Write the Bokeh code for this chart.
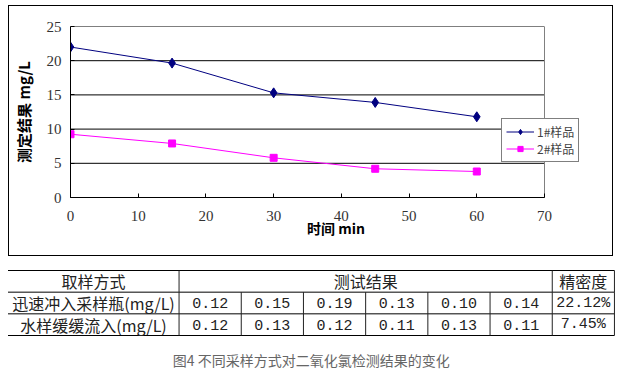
from bokeh.plotting import figure
from bokeh.models import Range1d, FixedTicker, ColumnDataSource
from bokeh.core.properties import value
from bokeh.embed import file_html
from bokeh.resources import INLINE

# ---------------- data ----------------
time_min = [0, 15, 30, 45, 60]
sample1 = [22.0, 19.65, 15.3, 13.9, 11.8]
sample2 = [9.25, 7.9, 5.8, 4.2, 3.8]
series_names = ["1#样品", "2#样品"]
x_ticks = [0, 10, 20, 30, 40, 50, 60, 70]
y_ticks = [0, 5, 10, 15, 20, 25]

table_header = ["取样方式", "测试结果", "精密度"]
row_labels = ["迅速冲入采样瓶(mg/L)", "水样缓缓流入(mg/L)"]
rapid_vals = ["0.12", "0.15", "0.19", "0.13", "0.10", "0.14"]
slow_vals = ["0.12", "0.13", "0.12", "0.11", "0.13", "0.11"]
precision = ["22.12%", "7.45%"]
caption = "图4 不同采样方式对二氧化氯检测结果的变化"

CJK = "Noto Sans CJK SC"
SERIF = "Liberation Serif"
MONO = "Liberation Mono"

# ---------------- chart ----------------
x_max, y_max = x_ticks[-1], y_ticks[-1]
plot_px = 474          # pixel width of the 0..70 plot area
frame_px = 531         # frame also holds the legend that overhangs the plot area
p = figure(width=605, height=251, output_backend="svg", toolbar_location=None,
           x_range=Range1d(0, x_max * frame_px / plot_px), y_range=Range1d(0, y_max),
           min_border_left=61, min_border_right=605 - 61 - frame_px,
           min_border_top=20, min_border_bottom=60,
           background_fill_color="white", border_fill_color="white",
           styles={"position": "absolute", "left": "8px", "top": "5px",
                   "border": "1px solid #000"})
p.outline_line_color = None
p.grid.visible = False

# horizontal gridlines and right edge of plot area
n = len(y_ticks)
p.segment(x0=[0] * n, x1=[x_max] * n, y0=y_ticks, y1=y_ticks, line_color="#000000", line_width=1)
p.segment(x0=[x_max], x1=[x_max], y0=[0], y1=[y_max], line_color="#808080", line_width=1)

p.xaxis.ticker = FixedTicker(ticks=x_ticks)
p.xaxis.bounds = (0, x_max)
p.yaxis.ticker = FixedTicker(ticks=y_ticks)
for ax in (p.xaxis[0], p.yaxis[0]):
    ax.major_tick_in = 4
    ax.major_tick_out = 0
    ax.minor_tick_line_color = None
    ax.axis_line_color = "#000000"
    ax.major_tick_line_color = "#000000"
    ax.major_label_text_font = SERIF
    ax.major_label_text_font_size = "15px"
    ax.major_label_text_color = "#333333"
    ax.axis_label_text_font = CJK
    ax.axis_label_text_font_style = "bold"
    ax.axis_label_text_color = "#000000"

p.xaxis.major_label_standoff = 13
p.xaxis.axis_label = "时间 min"
p.xaxis.axis_label_text_font_size = "14px"
p.xaxis.axis_label_standoff = -6
p.yaxis.major_label_standoff = 9
p.yaxis.axis_label = "测定结果 mg/L"
p.yaxis.axis_label_text_font_size = "15px"
p.yaxis.axis_label_standoff = 10

src = ColumnDataSource(dict(t=time_min, s1=sample1, s2=sample2))
p.line("t", "s1", source=src, line_color="#000080", line_width=1, legend_label=series_names[0])
p.scatter("t", "s1", source=src, marker="diamond", size=10, fill_color="#000080",
          line_color="#000080", legend_label=series_names[0])
p.line("t", "s2", source=src, line_color="#FF00FF", line_width=1, legend_label=series_names[1])
p.scatter("t", "s2", source=src, marker="square", size=7, fill_color="#FF00FF",
          line_color="#FF00FF", legend_label=series_names[1])

lg = p.legend[0]
lg.location = (431, 35)
lg.border_line_color = "#000000"
lg.background_fill_color = "white"
lg.background_fill_alpha = 1
lg.label_text_font = CJK
lg.label_text_font_size = "12px"
lg.label_height = 13
lg.glyph_height = 13
lg.glyph_width = 28
lg.label_standoff = 3
lg.padding = 4
lg.spacing = -3
lg.margin = 0

# ---------------- table ----------------
label_w = 2.75          # width of the label column, in value-column units
n_vals = len(rapid_vals)
total_w = label_w + n_vals + 1
n_rows = 1 + len(row_labels)
px_per_col = 62.2
row_px = 21.67
fig_w, fig_h = 626, 112
left_px, top_px = 7.5, 12

x0 = -left_px / px_per_col
y_top = -top_px / row_px
t = figure(width=fig_w, height=fig_h, output_backend="svg", toolbar_location=None,
           x_range=Range1d(x0, x0 + fig_w / px_per_col),
           y_range=Range1d(y_top + fig_h / row_px, y_top),
           min_border=0, x_axis_type=None, y_axis_type=None,
           background_fill_color="white", border_fill_color="white",
           styles={"position": "absolute", "left": "0px", "top": "258px"})
t.outline_line_color = None
t.grid.visible = False

# horizontal rules
hy = list(range(n_rows + 1))
t.segment(x0=[0] * len(hy), x1=[total_w] * len(hy), y0=hy, y1=hy, line_color="#000000", line_width=1)
# vertical rules
edges = [label_w + i for i in range(n_vals + 2)]
vx0, vy0, vy1 = [], [], []
for e in edges:
    vx0.append(e); vy0.append(1); vy1.append(n_rows)
for e in (label_w, label_w + n_vals, total_w):
    vx0.append(e); vy0.append(0); vy1.append(1)
t.segment(x0=vx0, x1=vx0, y0=vy0, y1=vy1, line_color="#222222", line_width=1)

# header texts
hx = [label_w / 2, label_w + n_vals / 2, label_w + n_vals + 0.5]
t.text(x=hx, y=[0.5] * 3, text=table_header, text_align="center", text_baseline="middle",
       text_font=value(CJK), text_font_size="16px", text_color="#222222")
# row labels
t.text(x=[label_w / 2] * len(row_labels), y=[1.5 + i for i in range(len(row_labels))],
       text=row_labels, text_align="center", text_baseline="middle",
       text_font=value(CJK), text_font_size="16px", text_color="#222222")
# values
vxs, vys, vts = [], [], []
for r, vals in enumerate([rapid_vals, slow_vals]):
    for i, v in enumerate(vals):
        vxs.append(label_w + i + 0.5); vys.append(1.5 + r); vts.append(v)
    vxs.append(label_w + n_vals + 0.5); vys.append(1.5 + r); vts.append(precision[r])
t.text(x=vxs, y=vys, text=vts, text_align="center", text_baseline="middle",
       text_font=value(MONO), text_font_size="15px", text_color="#222222")
# caption
t.text(x=[total_w / 2], y=[n_rows + 1.15], text=[caption], text_align="center",
       text_baseline="middle", text_font=value(CJK), text_font_size="14px", text_color="#666666")

open("out.html", "w").write(file_html([p, t], INLINE))
